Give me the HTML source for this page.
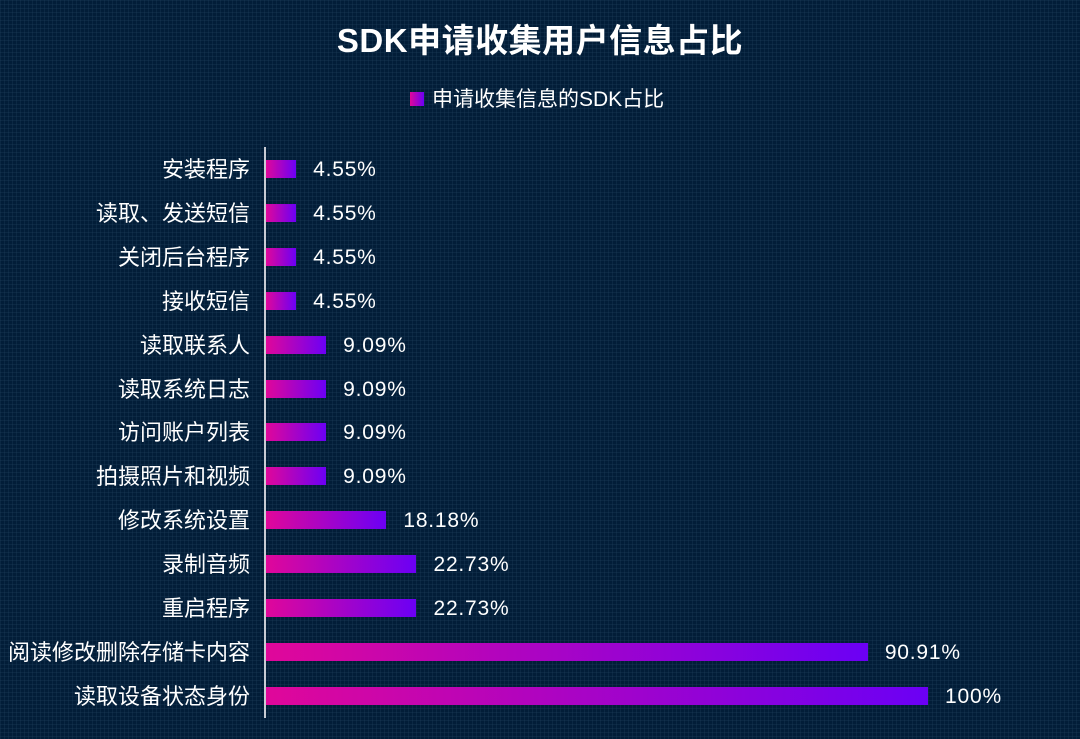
<!DOCTYPE html>
<html><head><meta charset="utf-8"><style>
body{margin:0;width:1080px;height:739px;overflow:hidden;background:#021d38;font-family:"Liberation Sans","Noto Sans CJK SC",sans-serif;position:relative;
background-image:linear-gradient(rgba(40,70,100,.25) 1px,transparent 1px),linear-gradient(90deg,rgba(40,70,100,.25) 1px,transparent 1px);background-size:4px 4px;}
.t{position:absolute;top:14px;left:0;width:1080px;text-align:center;color:#fff;font-size:33px;font-weight:bold;letter-spacing:0.5px}
.lg{position:absolute;top:83px;left:410px;color:#fff;font-size:21px}
.lg i{display:inline-block;width:14px;height:14px;background:linear-gradient(90deg,#e0079a,#6b00f5);margin-right:8px;vertical-align:0px}
.ax{position:absolute;left:264px;top:147px;width:2px;height:571px;background:#c8ccd4}
.l{position:absolute;right:830px;color:#fff;font-size:22px;white-space:nowrap;line-height:18px}
.b{position:absolute;left:266px;height:18px;background:linear-gradient(90deg,#e0079a,#6b00f5)}
.v{position:absolute;color:#fff;font-size:21px;line-height:18px;letter-spacing:0.8px}
</style></head><body>
<div class="t">SDK申请收集用户信息占比</div>
<div class="lg"><i></i>申请收集信息的SDK占比</div>
<div class="ax"></div>
<div id="c"></div>
<script>
var d=[["安装程序",4.55],["读取、发送短信",4.55],["关闭后台程序",4.55],["接收短信",4.55],["读取联系人",9.09],["读取系统日志",9.09],["访问账户列表",9.09],["拍摄照片和视频",9.09],["修改系统设置",18.18],["录制音频",22.73],["重启程序",22.73],["阅读修改删除存储卡内容",90.91],["读取设备状态身份",100]];
var h="";d.forEach(function(e,i){var y=160+i*43.9,w=662*e[1]/100;
h+='<div class="l" style="top:'+(y+1)+'px">'+e[0]+'</div><div class="b" style="top:'+y+'px;width:'+w+'px"></div><div class="v" style="top:'+(y+1)+'px;left:'+(266+w+17)+'px">'+(e[1]==100?'100':e[1].toFixed(2))+'%</div>';});
document.getElementById("c").innerHTML=h;
</script>
</body></html>
